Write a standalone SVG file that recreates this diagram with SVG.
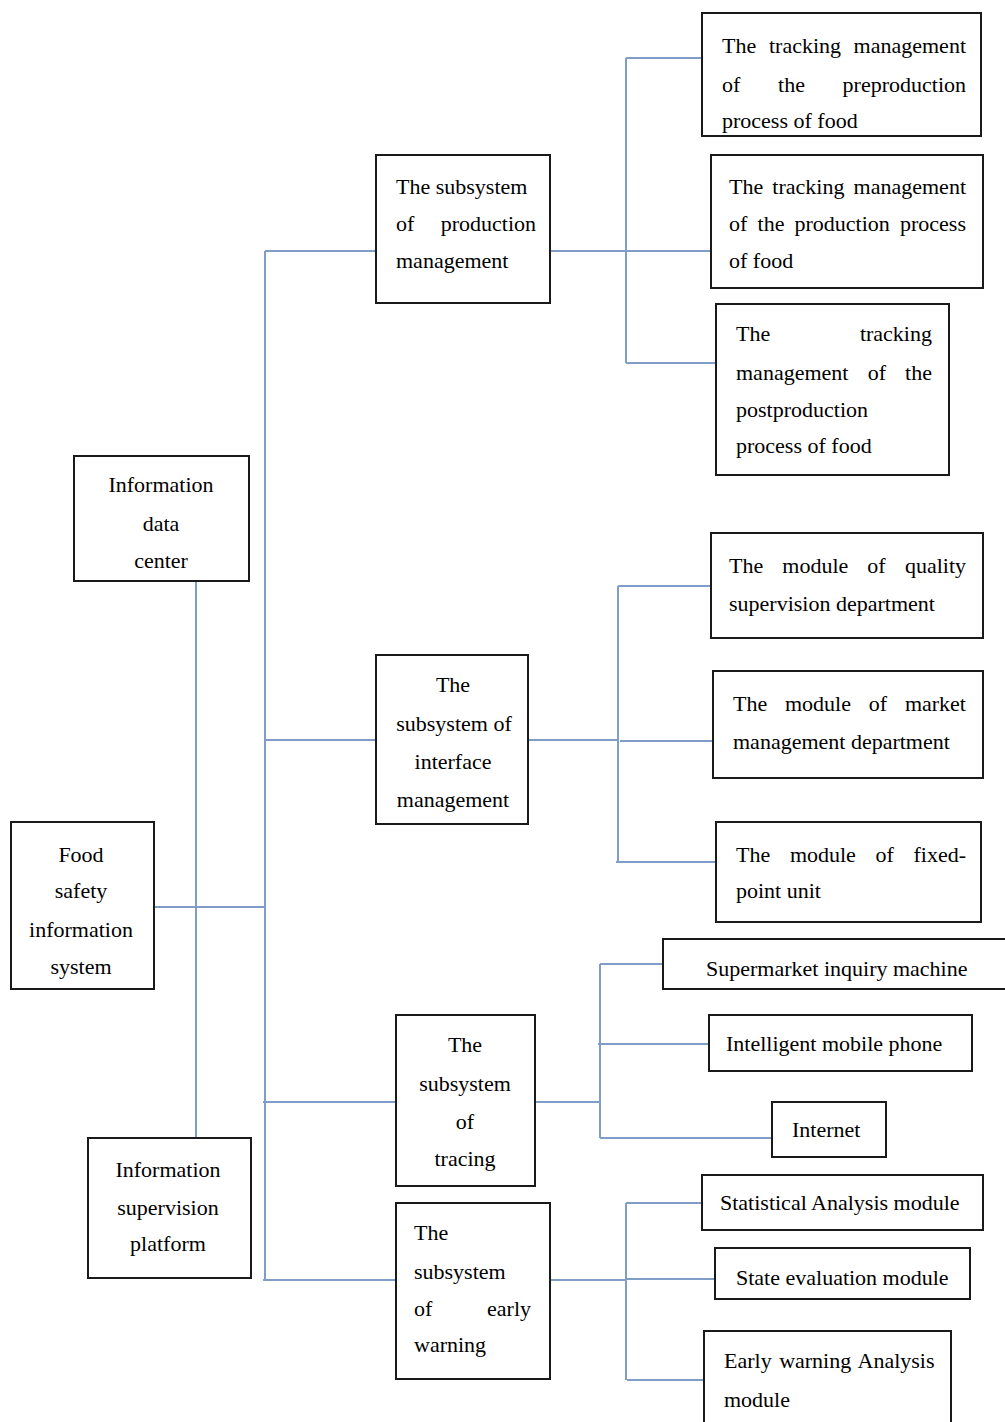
<svg xmlns="http://www.w3.org/2000/svg" width="1005" height="1422" viewBox="0 0 1005 1422">
<style>
.n{fill:#fff;stroke:#1a1a1a;stroke-width:2}
.t{font-family:"Liberation Serif","Times New Roman",serif;font-size:22px;fill:#000}
.m{text-anchor:middle}
.e{text-anchor:end}
.c{fill:none;stroke:#7f9dc6;stroke-width:2}
</style>
<rect width="1005" height="1422" fill="#fff"/>
<g id="connectors">
<path class="c" d="M154,907 H265 M265,251 V1280 M265,251 H376 M265,740 H376 M263,1102 H396 M263,1280 H396"/>
<path class="c" d="M196,581 V1138"/>
<path class="c" d="M550,251 H711 M626,58 V363 M626,58 H702 M626,363 H716"/>
<path class="c" d="M528,740 H618 M618,586 V862 M618,586 H711 M620,741 H713 M616,862 H716"/>
<path class="c" d="M535,1102 H601 M600,964 V1138 M600,964 H663 M598,1044 H709 M600,1138 H772"/>
<path class="c" d="M550,1280 H627 M626,1203 V1380 M626,1203 H702 M626,1279 H718 M627,1380 H704"/>
</g>
<g id="n-preproduction">
<rect class="n" x="702" y="13" width="279" height="123"/>
<text class="t" x="722" y="53">The</text><text class="t m" x="805" y="53">tracking</text><text class="t e" x="966" y="53">management</text>
<text class="t" x="722" y="92">of</text><text class="t m" x="791.5" y="92">the</text><text class="t e" x="966" y="92">preproduction</text>
<text class="t" x="722" y="128">process of food</text>
</g>
<g id="n-production-mgmt">
<rect class="n" x="376" y="155" width="174" height="148"/>
<text class="t" x="396" y="194">The subsystem</text>
<text class="t" x="396" y="231">of</text><text class="t e" x="536" y="231">production</text>
<text class="t" x="396" y="268">management</text>
</g>
<g id="n-production-process">
<rect class="n" x="711" y="155" width="272" height="133"/>
<text class="t" x="729" y="194">The</text><text class="t m" x="808.4" y="194">tracking</text><text class="t e" x="966" y="194">management</text>
<text class="t" x="729" y="231">of</text><text class="t m" x="771" y="231">the</text><text class="t m" x="842.2" y="231">production</text><text class="t e" x="966" y="231">process</text>
<text class="t" x="729" y="268">of food</text>
</g>
<g id="n-postproduction">
<rect class="n" x="716" y="304" width="233" height="171"/>
<text class="t" x="736" y="341">The</text><text class="t e" x="932" y="341">tracking</text>
<text class="t" x="736" y="380">management</text><text class="t m" x="876.8" y="380">of</text><text class="t e" x="932" y="380">the</text>
<text class="t" x="736" y="417">postproduction</text>
<text class="t" x="736" y="453">process of food</text>
</g>
<g id="n-data-center">
<rect class="n" x="74" y="456" width="175" height="125"/>
<text class="t m" x="161" y="492">Information</text>
<text class="t m" x="161" y="531">data</text>
<text class="t m" x="161" y="568">center</text>
</g>
<g id="n-quality">
<rect class="n" x="711" y="533" width="272" height="105"/>
<text class="t" x="729" y="573">The</text><text class="t m" x="815.3" y="573">module</text><text class="t m" x="876.5" y="573">of</text><text class="t e" x="966" y="573">quality</text>
<text class="t" x="729" y="611">supervision department</text>
</g>
<g id="n-interface">
<rect class="n" x="376" y="655" width="152" height="169"/>
<text class="t m" x="453" y="692">The</text>
<text class="t m" x="454" y="731">subsystem of</text>
<text class="t m" x="453" y="769">interface</text>
<text class="t m" x="453" y="807">management</text>
</g>
<g id="n-market">
<rect class="n" x="713" y="671" width="270" height="107"/>
<text class="t" x="733" y="711">The</text><text class="t m" x="818" y="711">module</text><text class="t m" x="878" y="711">of</text><text class="t e" x="966" y="711">market</text>
<text class="t" x="733" y="749">management department</text>
</g>
<g id="n-fixed-point">
<rect class="n" x="716" y="822" width="265" height="100"/>
<text class="t" x="736" y="862">The</text><text class="t m" x="822.9" y="862">module</text><text class="t m" x="884.7" y="862">of</text><text class="t e" x="966" y="862">fixed-</text>
<text class="t" x="736" y="898">point unit</text>
</g>
<g id="n-food-safety">
<rect class="n" x="11" y="822" width="143" height="167"/>
<text class="t m" x="81" y="862">Food</text>
<text class="t m" x="81" y="898">safety</text>
<text class="t m" x="81" y="937">information</text>
<text class="t m" x="81" y="974">system</text>
</g>
<g id="n-supermarket">
<rect class="n" x="663" y="939" width="350" height="50"/>
<text class="t" x="706" y="976">Supermarket inquiry machine</text>
</g>
<g id="n-mobile">
<rect class="n" x="709" y="1015" width="263" height="56"/>
<text class="t" x="726" y="1051">Intelligent mobile phone</text>
</g>
<g id="n-tracing">
<rect class="n" x="396" y="1015" width="139" height="171"/>
<text class="t m" x="465" y="1052">The</text>
<text class="t m" x="465" y="1091">subsystem</text>
<text class="t m" x="465" y="1129">of</text>
<text class="t m" x="465" y="1166">tracing</text>
</g>
<g id="n-internet">
<rect class="n" x="772" y="1102" width="114" height="55"/>
<text class="t" x="792" y="1137">Internet</text>
</g>
<g id="n-supervision-platform">
<rect class="n" x="88" y="1138" width="163" height="140"/>
<text class="t m" x="168" y="1177">Information</text>
<text class="t m" x="168" y="1215">supervision</text>
<text class="t m" x="168" y="1251">platform</text>
</g>
<g id="n-statistical">
<rect class="n" x="702" y="1175" width="281" height="55"/>
<text class="t" x="720" y="1210">Statistical Analysis module</text>
</g>
<g id="n-early-warning">
<rect class="n" x="396" y="1203" width="154" height="176"/>
<text class="t" x="414" y="1240">The</text>
<text class="t" x="414" y="1279">subsystem</text>
<text class="t" x="414" y="1316">of</text><text class="t e" x="531" y="1316">early</text>
<text class="t" x="414" y="1352">warning</text>
</g>
<g id="n-state-evaluation">
<rect class="n" x="715" y="1248" width="255" height="51"/>
<text class="t" x="736" y="1285">State evaluation module</text>
</g>
<g id="n-early-warning-analysis">
<rect class="n" x="704" y="1331" width="247" height="100"/>
<text class="t" x="724" y="1368" word-spacing="2">Early warning Analysis</text>
<text class="t" x="724" y="1407">module</text>
</g>
</svg>
